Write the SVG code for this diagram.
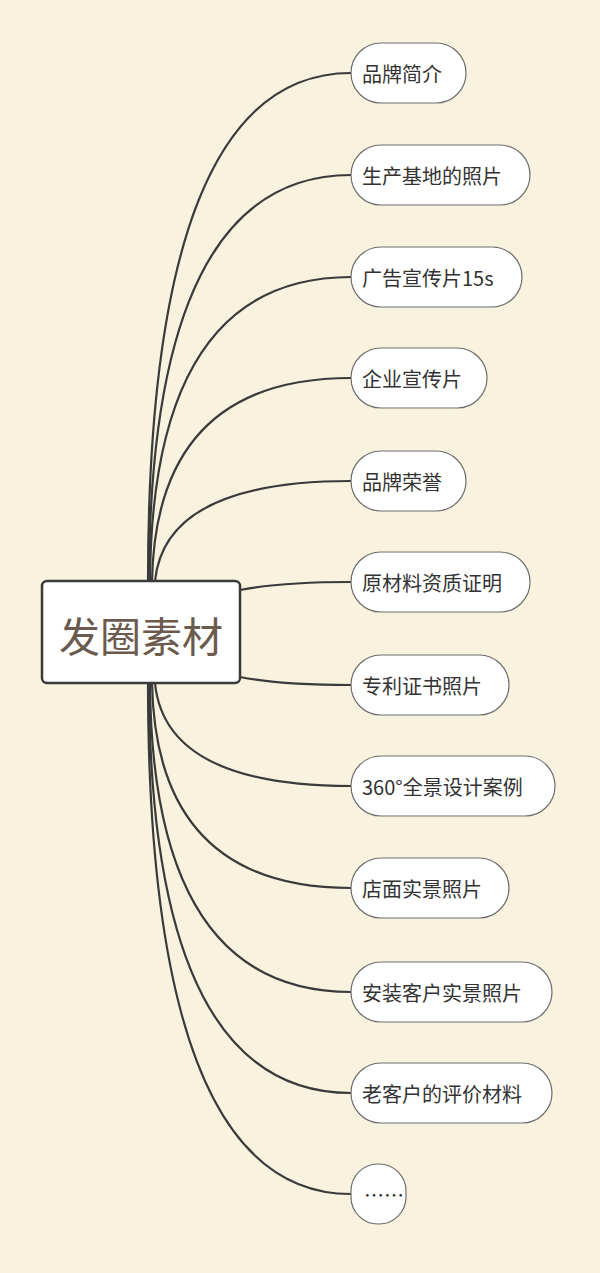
<svg xmlns="http://www.w3.org/2000/svg" width="600" height="1273" viewBox="0 0 600 1273">
<style>
.c{fill:none;stroke:#3a3a3a;stroke-width:2.2}
.n rect{fill:#fff;stroke:#6e6e6e;stroke-width:1.2}
.n text{font-family:"Noto Sans CJK SC","Noto Sans",sans-serif;font-size:20px;fill:#333;dominant-baseline:central}
</style>
<rect width="600" height="1273" fill="#f8f2de"/>
<g id="connectors">
<path class="c" d="M148 581 Q148 73 351 73"/>
<path class="c" d="M149 581 Q150 175 351 175"/>
<path class="c" d="M150 581 Q152 277 351 277"/>
<path class="c" d="M152 581 Q156 378 351 378"/>
<path class="c" d="M155 581 Q165 481 351 481"/>
<path class="c" d="M240 590 Q280 582 351 582"/>
<path class="c" d="M240 677 Q280 685 351 685"/>
<path class="c" d="M155 683 Q165 786 351 786"/>
<path class="c" d="M152 683 Q156 888 351 888"/>
<path class="c" d="M150 683 Q152 992 351 992"/>
<path class="c" d="M149 683 Q150 1093 351 1093"/>
<path class="c" d="M148 683 Q148 1194 351 1194"/>
</g>
<g id="root">
<rect x="42" y="581" width="198" height="102" rx="5" fill="#fff" stroke="#3a3a3a" stroke-width="2.5"/>
<text x="141" y="634" text-anchor="middle" dominant-baseline="central" font-family="Noto Sans CJK SC,sans-serif" font-size="41" fill="#6b5a4e">发圈素材</text>
</g>
<g id="n1" class="n"><rect x="351" y="43" width="115" height="60" rx="30"/><text x="362" y="73">品牌简介</text></g>
<g id="n2" class="n"><rect x="351" y="145" width="179" height="60" rx="30"/><text x="362" y="175">生产基地的照片</text></g>
<g id="n3" class="n"><rect x="351" y="247" width="171" height="60" rx="30"/><text x="362" y="277">广告宣传片15s</text></g>
<g id="n4" class="n"><rect x="351" y="348" width="136" height="60" rx="30"/><text x="362" y="378">企业宣传片</text></g>
<g id="n5" class="n"><rect x="351" y="451" width="115" height="60" rx="30"/><text x="362" y="481">品牌荣誉</text></g>
<g id="n6" class="n"><rect x="351" y="552" width="179" height="60" rx="30"/><text x="362" y="582">原材料资质证明</text></g>
<g id="n7" class="n"><rect x="351" y="655" width="158" height="60" rx="30"/><text x="362" y="685">专利证书照片</text></g>
<g id="n8" class="n"><rect x="351" y="756" width="204" height="60" rx="30"/><text x="362" y="786">360°全景设计案例</text></g>
<g id="n9" class="n"><rect x="351" y="858" width="158" height="60" rx="30"/><text x="362" y="888">店面实景照片</text></g>
<g id="n10" class="n"><rect x="351" y="962" width="201" height="60" rx="30"/><text x="362" y="992">安装客户实景照片</text></g>
<g id="n11" class="n"><rect x="351" y="1063" width="201" height="60" rx="30"/><text x="362" y="1093">老客户的评价材料</text></g>
<g id="n12" class="n"><rect x="351" y="1164" width="55" height="60" rx="27"/><text x="364" y="1194">……</text></g>
</svg>
